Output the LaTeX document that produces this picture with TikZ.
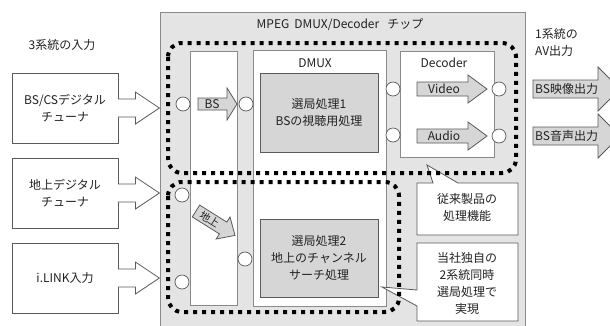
\documentclass[tikz,border=0pt]{standalone}
\usepackage{fontspec}
\setmainfont{Noto Sans CJK JP}
\definecolor{chipfill}{HTML}{E4E4E4}
\definecolor{grayfill}{HTML}{D6D6D6}
\definecolor{edge}{HTML}{8A8A8A}
\definecolor{dark}{HTML}{5A5A5A}
\definecolor{txt}{HTML}{222222}
\begin{document}
\begin{tikzpicture}[x=1pt,y=-1pt,
  every node/.style={font=\fontsize{12}{17}\selectfont, text=txt, inner sep=0pt, align=center},
  chipbox/.style={draw=edge, fill=chipfill, line width=0.8pt, anchor=north west},
  whitebox/.style={draw=edge, fill=white, line width=0.8pt},
  inbox/.style={draw=dark, fill=white, line width=0.8pt},
  graybox/.style={draw=dark, fill=grayfill, line width=0.8pt},
  portc/.style={circle, draw=dark, fill=white, line width=0.7pt, minimum size=14pt},
  inarrow/.style={draw=dark, fill=white, line width=0.8pt},
  blockarrow/.style={draw=dark, fill=grayfill, line width=0.8pt},
  dotline/.style={line width=4pt, dash pattern=on 4pt off 5pt, rounded corners=14pt},
  calloutbox/.style={draw=dark, fill=white, line width=0.8pt},
]
\useasboundingbox (0,0) rectangle (610,325);
\clip (0,0) rectangle (610,325);

% chip
\node[chipbox, minimum width=365pt, minimum height=330pt] (chip) at (160,12) {};
\node (title) at (340,25) {MPEG\hspace{5pt}DMUX/Decoder\hspace{8pt}チップ};

% inputs
\node (inlabel) at (62,45) {3系統の入力};
\node[inbox, minimum width=106pt, minimum height=70pt] (in1) at (65,108) {BS/CSデジタル\\チューナ};
\node[inbox, minimum width=106pt, minimum height=70pt] (in2) at (65,193) {地上デジタル\\チューナ};
\node[inbox, minimum width=106pt, minimum height=70pt] (in3) at (65,278) {i.LINK入力};
\foreach \n in {in1,in2,in3}{
  \path[inarrow] (\n.east) ++(-0.5,-9) -- ++(17.5,0) -- ++(0,-7) -- ++(24,16) -- ++(-24,16) -- ++(0,-7) -- ++(-17.5,0);
}

% inner columns
\node[whitebox, minimum width=47pt, minimum height=254pt] (bscol) at (213.5,178) {};
\node[whitebox, minimum width=133pt, minimum height=256pt] (dmux) at (319.5,178) {};
\node (dmuxt) at (315,63) {DMUX};
\node[graybox, minimum width=118pt, minimum height=79pt] (sel1) at (319,112.5) {選局処理1\\BSの視聴用処理};
\node[graybox, minimum width=118pt, minimum height=78pt] (sel2) at (319,258) {選局処理2\\地上のチャンネル\\サーチ処理};
\node[whitebox, minimum width=94pt, minimum height=106pt] (dec) at (447,104) {};
\node (dect) at (444,63) {Decoder};

% block arrows
\draw[blockarrow] (198,98) -- (227,98) -- (227,88) -- (237,104) -- (227,120) -- (227,110) -- (198,110) -- cycle;
\node (bst) at (212,104) {BS};
\draw[blockarrow] (417,82) -- (468,82) -- (468,75) -- (487,89) -- (468,103) -- (468,96) -- (417,96) -- cycle;
\node (vid) at (444,89) {Video};
\draw[blockarrow] (417,129) -- (468,129) -- (468,122) -- (487,136) -- (468,150) -- (468,143) -- (417,143) -- cycle;
\node (aud) at (444,136) {Audio};
\draw[blockarrow] (192.3,216.9) -- (219.4,233.9) -- (216.2,239.0) -- (235.0,235.4) -- (230.0,217.0) -- (226.8,222.1) -- (199.7,205.1) -- cycle;
\node[rotate=-32, font=\fontsize{10.5}{12}\selectfont] (chit) at (209.6,219.5) {地上};

% outputs
\node[anchor=west, align=left] (outlabel) at (535,42) {1系統の\\AV出力};
\draw[blockarrow] (533,80) -- (598,80) -- (598,67) -- (620,89) -- (598,111) -- (598,98) -- (533,98) -- cycle;
\node[anchor=west] (out1) at (535,89) {BS映像出力};
\draw[blockarrow] (533,127) -- (598,127) -- (598,114) -- (620,136) -- (598,158) -- (598,145) -- (533,145) -- cycle;
\node[anchor=west] (out2) at (535,136) {BS音声出力};

% ports
\node[portc] (p1) at (183,104) {};
\node[portc] (p2) at (246,104) {};
\node[portc] (p3) at (393,89) {};
\node[portc] (p4) at (393,135) {};
\node[portc] (p5) at (499,89) {};
\node[portc] (p6) at (499,136) {};
\node[portc] (p7) at (182,195) {};
\node[portc] (p8) at (182,282) {};
\node[portc] (p9) at (245,259) {};

% callouts
\draw[calloutbox] (417,183) -- (433,183) -- (427,165) -- (458,183) -- (518,183) -- (518,235) -- (417,235) -- cycle;
\node (co1) at (467,207) {従来製品の\\処理機能};
\draw[calloutbox] (417,243) -- (518,243) -- (518,321) -- (417,321) -- (417,306) -- (382,287) -- (417,290) -- cycle;
\node (co2) at (467,283) {当社独自の\\2系統同時\\選局処理で\\実現};

% dotted loops
\draw[dotline] (168,43) rectangle (516,173);
\draw[dotline] (168,182) rectangle (399,312);
\end{tikzpicture}
\end{document}
